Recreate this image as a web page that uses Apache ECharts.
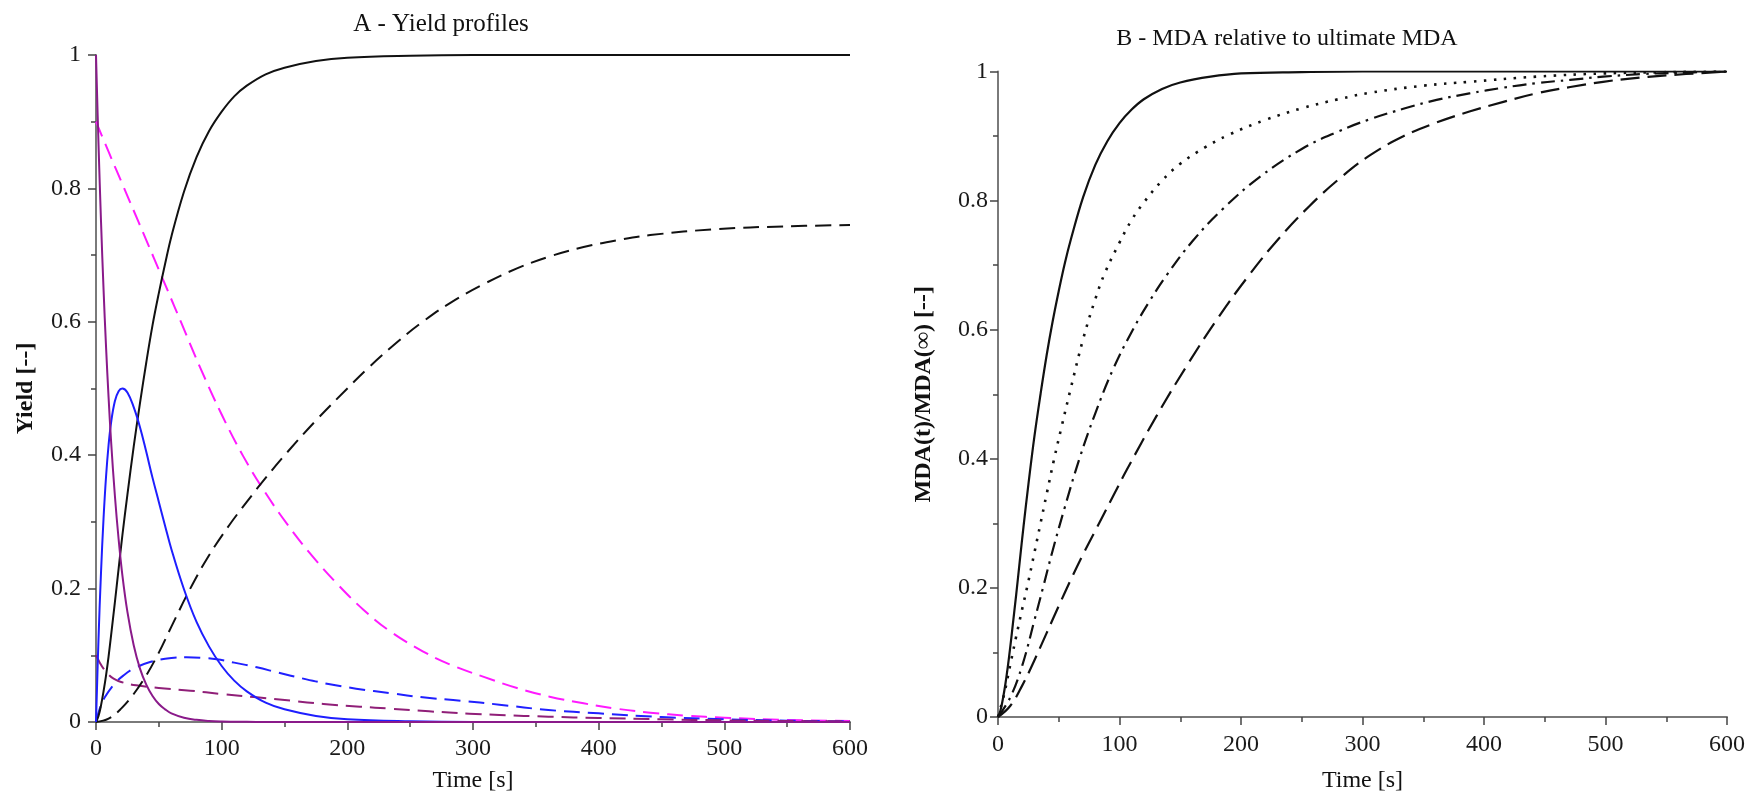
<!DOCTYPE html>
<html>
<head>
<meta charset="utf-8">
<script src="https://cdn.jsdelivr.net/npm/echarts@6/dist/echarts.min.js"></script>
<style>
html,body{margin:0;padding:0;background:#fff;}
#c{width:1751px;height:798px;}
</style>
</head>
<body>
<div id="c"></div>
<script>
// ---------- Panel A data ----------
const tA = [0,2,4,6,8,10,12,15,18,21,25,30,35,40,45,50,55,60,70,80,90,100,110,120,135,150,175,200,250,300,400,500,600];
const purpleSolid = [1,0.866,0.750,0.649,0.562,0.487,0.421,0.340,0.274,0.220,0.165,0.115,0.080,0.056,0.039,0.027,0.019,0.013,0.0065,0.0032,0.0015,0.0007,0.0004,0.0002,0,0,0,0,0,0,0,0,0];
const blueSolid = [0,0.125,0.225,0.305,0.368,0.415,0.449,0.481,0.496,0.5,0.494,0.472,0.442,0.405,0.366,0.33,0.294,0.259,0.199,0.15,0.113,0.084,0.062,0.046,0.029,0.019,0.009,0.004,0.001,0,0,0,0];
const blackSolid = [0,0.009,0.025,0.046,0.07,0.098,0.13,0.179,0.23,0.28,0.341,0.413,0.478,0.539,0.595,0.643,0.687,0.728,0.795,0.847,0.886,0.915,0.938,0.954,0.971,0.981,0.991,0.996,0.999,1,1,1,1];

const magentaT = [0,10,22,34,46,57,68,83,100,117,134,152,172,193,213,234,260,282,308,335,361,388,414,441,470,500,550,600];
const magentaDash = [0.9,0.855,0.802,0.749,0.696,0.647,0.598,0.531,0.461,0.399,0.346,0.297,0.249,0.205,0.168,0.136,0.106,0.086,0.068,0.051,0.038,0.028,0.02,0.014,0.0095,0.0065,0.003,0.0015];

const blueDashT = [0,3,7,15,22,30,43,60,72,85,96,110,128,145,165,185,207,235,260,290,321,360,400,450,500,550,600];
const blueDash = [0,0.02,0.037,0.058,0.07,0.08,0.09,0.096,0.097,0.096,0.094,0.089,0.082,0.074,0.065,0.057,0.05,0.043,0.037,0.032,0.026,0.018,0.013,0.0075,0.004,0.002,0.001];

const purpleDashT = [0,3,6,10,14,20,32,50,75,100,128,155,181,210,234,265,297,321,360,400,450,500,550,600];
const purpleDash = [0.1,0.089,0.08,0.071,0.065,0.06,0.055,0.051,0.047,0.042,0.037,0.032,0.027,0.023,0.02,0.016,0.0125,0.0105,0.008,0.006,0.004,0.0025,0.0015,0.001];

const blackDashT = [0,10,20,30,40,50,60,75,90,106,120,135,152,175,200,215,240,260,282,308,335,361,388,414,441,494,547,600];
const blackDash = [0,0.005,0.02,0.042,0.07,0.104,0.143,0.2,0.25,0.295,0.33,0.366,0.404,0.452,0.5,0.528,0.57,0.6,0.6285,0.656,0.68,0.698,0.712,0.722,0.73,0.739,0.743,0.745];

// ---------- Panel B data ----------
const solidBT = [0,2,4,6,8,10,12,15,18,21,25,30,35,40,45,50,55,60,70,80,90,100,110,120,135,150,175,200,250,300,400,500,600];
const solidB = [0,0.01,0.028,0.05,0.077,0.107,0.14,0.19,0.243,0.295,0.36,0.435,0.5,0.56,0.613,0.66,0.703,0.74,0.805,0.855,0.892,0.92,0.941,0.957,0.973,0.983,0.992,0.997,0.999,1,1,1,1];

const dotT = [0,5,10,15,20,25,30,35,40,46,52,60,70,80,88,100,110,120,135,150,170,190,220,250,280,306,350,388,443,498,550,600];
const dotB = [0,0.035,0.08,0.125,0.168,0.21,0.255,0.3,0.345,0.398,0.447,0.51,0.585,0.647,0.688,0.735,0.77,0.797,0.831,0.857,0.882,0.902,0.925,0.943,0.957,0.967,0.978,0.984,0.992,0.997,0.999,1];

const dashDotT = [0,10,20,30,37,45,55,67,80,95,111,125,139,160,185,215,250,280,306,335,361,388,416,443,471,498,530,560,600];
const dashDotB = [0,0.03,0.08,0.15,0.2,0.258,0.325,0.4,0.47,0.54,0.6,0.645,0.685,0.737,0.787,0.836,0.88,0.907,0.926,0.943,0.956,0.966,0.975,0.982,0.987,0.992,0.996,0.998,1];

const dashT = [0,10,20,30,40,50,60,70,81,95,106,131,156,181,206,231,256,281,306,334,361,388,416,443,471,498,520,550,600];
const dashB = [0,0.017,0.049,0.088,0.13,0.172,0.213,0.252,0.292,0.343,0.383,0.468,0.546,0.618,0.683,0.741,0.791,0.834,0.87,0.9,0.921,0.938,0.953,0.966,0.976,0.984,0.989,0.994,1];

const xTicks = [0,100,200,300,400,500,600];

function pairs(t, v){ return t.map((x,i)=>[x, v[i]]); }

const FONT = "'Liberation Serif','DejaVu Serif',serif";

function xAxisCfg(grid, gap, margin){
  return {
    type:'value', gridIndex:grid, min:0, max:600, interval:100,
    axisLine:{show:true, onZero:false, lineStyle:{color:'#7a7a7a', width:2}},
    axisTick:{show:true, length:8, lineStyle:{color:'#444', width:1.5}},
    minorTick:{show:true, splitNumber:2, length:5, lineStyle:{color:'#444', width:1.5}},
    splitLine:{show:false}, minorSplitLine:{show:false},
    axisLabel:{color:'#1a1a1a', fontFamily:FONT, fontSize:24, margin:margin,
      formatter:(v)=> xTicks.indexOf(v) >= 0 ? String(v) : ''},
    name:'Time [s]', nameLocation:'middle', nameGap:gap,
    nameTextStyle:{color:'#111', fontFamily:FONT, fontSize:24}
  };
}
function yAxisCfg(grid, name, gap, margin){
  return {
    type:'value', gridIndex:grid, min:0, max:1, interval:0.2,
    axisLine:{show:true, onZero:false, lineStyle:{color:'#7a7a7a', width:2}},
    axisTick:{show:true, length:8, lineStyle:{color:'#444', width:1.5}},
    minorTick:{show:true, splitNumber:2, length:5, lineStyle:{color:'#444', width:1.5}},
    splitLine:{show:false}, minorSplitLine:{show:false},
    axisLabel:{color:'#1a1a1a', fontFamily:FONT, fontSize:24, margin:margin,
      formatter:(v)=> String(Math.round(v*10)/10)},
    name:name, nameLocation:'middle', nameGap:gap, nameRotate:90,
    nameTextStyle:{color:'#111', fontFamily:FONT, fontSize:24, fontWeight:'bold'}
  };
}
function line(xi, data, color, type, width){
  return {
    type:'line', xAxisIndex:xi, yAxisIndex:xi, data:data, showSymbol:false, symbol:'none',
    smooth:0.4, clip:true, silent:true,
    lineStyle:{color:color, width:width||2, type:type||'solid', cap:'butt', join:'round'}
  };
}

const chart = echarts.init(document.getElementById('c'), null, {renderer:'canvas'});
chart.setOption({
  animation:false,
  backgroundColor:'#fff',
  title:[
    {text:'A - Yield profiles', left:436, top:7, textAlign:'center',
     textStyle:{fontFamily:FONT, fontSize:25, fontWeight:'normal', color:'#111'}},
    {text:'B - MDA relative to ultimate MDA', left:1282, top:22, textAlign:'center',
     textStyle:{fontFamily:FONT, fontSize:24, fontWeight:'normal', color:'#111'}}
  ],
  grid:[
    {left:96, top:55, width:754, height:670},
    {left:998, top:71.5, width:729, height:647.5}
  ],
  xAxis:[xAxisCfg(0, 47, 15), xAxisCfg(1, 52, 16)],
  yAxis:[yAxisCfg(0, 'Yield [--]', 58, 15), yAxisCfg(1, 'MDA(t)/MDA(\u221E) [--]', 62, 10)],
  series:[
    line(0, pairs(magentaT, magentaDash), '#ff1aff', [16,8], 2),
    line(0, pairs(blueDashT, blueDash), '#2020ff', [16,8], 2),
    line(0, pairs(purpleDashT, purpleDash), '#901f78', [16,8], 2),
    line(0, pairs(blackDashT, blackDash), '#111', [16,8], 2),
    line(0, pairs(tA, blackSolid), '#111', 'solid', 2),
    line(0, pairs(tA, blueSolid), '#1e1eff', 'solid', 2),
    line(0, pairs(tA, purpleSolid), '#8a1a8a', 'solid', 2),
    line(1, pairs(solidBT, solidB), '#111', 'solid', 2.2),
    line(1, pairs(dotT, dotB), '#111', [2.5,7.5], 2.6),
    line(1, pairs(dashDotT, dashDotB), '#111', [14,6,2.5,6], 2.2),
    line(1, pairs(dashT, dashB), '#111', [19,8], 2.2)
  ]
});
</script>
</body>
</html>
